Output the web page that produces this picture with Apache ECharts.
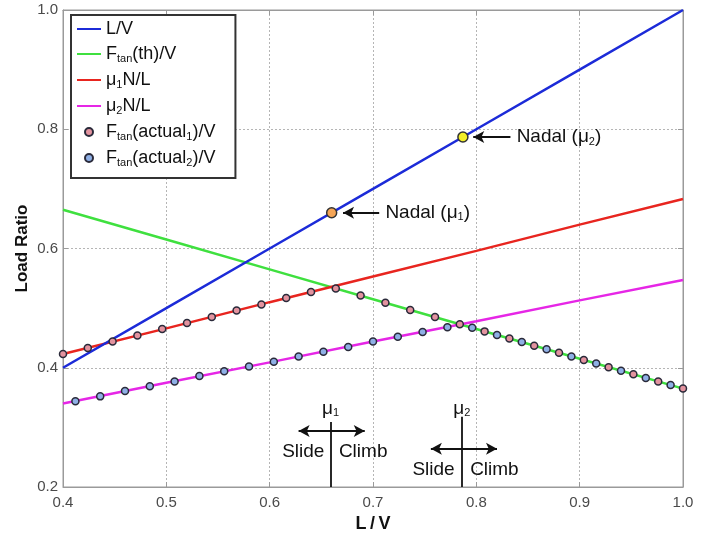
<!DOCTYPE html>
<html><head><meta charset="utf-8">
<script src="https://cdn.jsdelivr.net/npm/echarts@6/dist/echarts.min.js"></script>
<style>html,body{margin:0;padding:0;background:#fff}#c{width:705px;height:535px}</style>
</head><body><div id="c"></div>
<script>
// ---- data ----
const lineX = [0.4, 0.5, 0.6, 0.7, 0.8, 0.9, 1.0];
const lvY   = [0.4, 0.5, 0.6, 0.7, 0.8, 0.9, 1.0];
const thY   = [0.665, 0.615, 0.565, 0.515, 0.465, 0.415, 0.365];
const mu1Y  = [0.423, 0.466, 0.510, 0.553, 0.596, 0.640, 0.683];
const mu2Y  = [0.340, 0.375, 0.409, 0.444, 0.478, 0.513, 0.547];
const act1X = [0.400,0.424,0.448,0.472,0.496,0.520,0.544,0.568,0.592,0.616,0.640,0.664,0.688,0.712,0.736,0.760,0.784,0.808,0.832,0.856,0.880,0.904,0.928,0.952,0.976,1.000];
const act1Y = [0.423,0.433,0.444,0.454,0.465,0.475,0.485,0.496,0.506,0.517,0.527,0.533,0.521,0.509,0.497,0.485,0.473,0.461,0.449,0.437,0.425,0.413,0.401,0.389,0.377,0.365];
const act2X = [0.412,0.436,0.460,0.484,0.508,0.532,0.556,0.580,0.604,0.628,0.652,0.676,0.700,0.724,0.748,0.772,0.796,0.820,0.844,0.868,0.892,0.916,0.940,0.964,0.988];
const act2Y = [0.344,0.352,0.361,0.369,0.377,0.386,0.394,0.402,0.410,0.419,0.427,0.435,0.444,0.452,0.460,0.468,0.467,0.455,0.443,0.431,0.419,0.407,0.395,0.383,0.371];
const nadalX = [0.660, 0.787];
const nadalY = [0.660, 0.787];
const nadalColors = ['#f5a556', '#f2ee2a'];
const mu1X = 0.659, mu2X = 0.786;

const zip = (xs, ys) => xs.map((x, i) => [x, ys[i]]);
const FONT = 'Liberation Sans';
const mkRich = (big, small, pad) => ({
  n: {fontSize: big, color: '#111', fontFamily: FONT, lineHeight: 20},
  s: {fontSize: small, color: '#111', fontFamily: FONT, lineHeight: 20, padding: [pad, 0, 0, 0]}
});
const legRich = mkRich(18, 11, 9);
const noteRich = mkRich(19, 11, 9);
const legendText = {
  'L/V': '{n|L/V}',
  'Ftan(th)/V': '{n|F}{s|tan}{n|(th)/V}',
  'μ1N/L': '{n|μ}{s|1}{n|N/L}',
  'μ2N/L': '{n|μ}{s|2}{n|N/L}',
  'Ftan(actual1)/V': '{n|F}{s|tan}{n|(actual}{s|1}{n|)/V}',
  'Ftan(actual2)/V': '{n|F}{s|tan}{n|(actual}{s|2}{n|)/V}'
};

const chart = echarts.init(document.getElementById('c'), null, {renderer: 'canvas'});
const axisCol = '#9a9a9a';
const lbl = {color: '#4a4a4a', fontSize: 15, fontFamily: FONT, formatter: v => v.toFixed(1)};

const noteLabel = (pos, text) => ({show: true, position: pos, distance: 0, formatter: text, rich: noteRich,
  color: '#111', opacity: 1, textBorderWidth: 0});
const notes = [
  {value: [0.712, 0.660], label: noteLabel('right', '{n|Nadal (μ}{s|1}{n|)}')},
  {value: [0.839, 0.787], label: noteLabel('right', '{n|Nadal (μ}{s|2}{n|)}')},
  {value: [mu1X, 0.331], label: noteLabel('inside', '{n|μ}{s|1}')},
  {value: [mu2X, 0.331], label: noteLabel('inside', '{n|μ}{s|2}')},
  {value: [0.653, 0.259], label: noteLabel('left', '{n|Slide}')},
  {value: [0.667, 0.259], label: noteLabel('right', '{n|Climb}')},
  {value: [0.779, 0.229], label: noteLabel('left', '{n|Slide}')},
  {value: [0.794, 0.229], label: noteLabel('right', '{n|Climb}')}
];
const arrowSeg = (x1, y1, x2, y2, s1, s2) => [
  {coord: [x1, y1], symbol: s1}, {coord: [x2, y2], symbol: s2}
];
const lineLegend = name => ({name: name, itemStyle: {opacity: 0}});

chart.setOption({
  animation: false,
  backgroundColor: '#fff',
  textStyle: {fontFamily: FONT},
  grid: {left: 63, right: 22, top: 10, bottom: 48, show: true, borderColor: axisCol, borderWidth: 1,
    backgroundColor: 'transparent', containLabel: false, outerBoundsMode: 'none'},
  legend: {
    orient: 'vertical', left: 71, top: 15,
    padding: [5, 20, 10, 5], itemGap: 6, itemWidth: 24, itemHeight: 8,
    borderColor: '#333', borderWidth: 2, backgroundColor: '#fff',
    data: [lineLegend('L/V'), lineLegend('Ftan(th)/V'), lineLegend('μ1N/L'), lineLegend('μ2N/L'), 'Ftan(actual1)/V', 'Ftan(actual2)/V'],
    formatter: name => legendText[name],
    textStyle: {rich: legRich}
  },
  xAxis: [{
    type: 'value', min: 0.4, max: 1.0, interval: 0.1,
    name: 'L\u2009/\u2009V', nameLocation: 'middle', nameGap: 27,
    nameTextStyle: {fontWeight: 'bold', fontSize: 18, color: '#111', fontFamily: FONT},
    axisLine: {show: true, onZero: false, lineStyle: {color: axisCol}},
    axisTick: {show: true, inside: true, length: 5, lineStyle: {color: axisCol}},
    axisLabel: Object.assign({margin: 8}, lbl),
    splitLine: {show: true, lineStyle: {color: '#b5b5b5', type: [2, 2], width: 1}}
  }, {
    type: 'value', position: 'top', min: 0.4, max: 1.0, interval: 0.1,
    axisLine: {show: true, onZero: false, lineStyle: {color: axisCol}},
    axisTick: {show: true, inside: true, length: 5, lineStyle: {color: axisCol}},
    axisLabel: {show: false}, splitLine: {show: false}
  }],
  yAxis: [{
    type: 'value', min: 0.2, max: 1.0, interval: 0.2,
    name: 'Load Ratio', nameLocation: 'middle', nameGap: 32, nameMoveOverlap: false,
    nameTextStyle: {fontWeight: 'bold', fontSize: 17, color: '#111', fontFamily: FONT},
    axisLine: {show: true, onZero: false, lineStyle: {color: axisCol}},
    axisTick: {show: true, inside: true, length: 5, lineStyle: {color: axisCol}},
    axisLabel: Object.assign({margin: 5}, lbl),
    splitLine: {show: true, lineStyle: {color: '#b5b5b5', type: [2, 2], width: 1}}
  }, {
    type: 'value', position: 'right', min: 0.2, max: 1.0, interval: 0.2,
    axisLine: {show: true, onZero: false, lineStyle: {color: axisCol}},
    axisTick: {show: true, inside: true, length: 5, lineStyle: {color: axisCol}},
    axisLabel: {show: false}, splitLine: {show: false}
  }],
  series: [
    {name: 'L/V', type: 'line', data: zip(lineX, lvY), symbol: 'none', color: '#1c2bd8', lineStyle: {width: 2.5}, z: 3},
    {name: 'Ftan(th)/V', type: 'line', data: zip(lineX, thY), symbol: 'none', color: '#3fe03f', lineStyle: {width: 2.5}, z: 2},
    {name: 'μ1N/L', type: 'line', data: zip(lineX, mu1Y), symbol: 'none', color: '#e8251f', lineStyle: {width: 2.5}, z: 2},
    {name: 'μ2N/L', type: 'line', data: zip(lineX, mu2Y), symbol: 'none', color: '#e626e6', lineStyle: {width: 2.5}, z: 2},
    {name: 'Ftan(actual1)/V', type: 'scatter', data: zip(act1X, act1Y), symbol: 'circle', symbolSize: 7, clip: false,
      itemStyle: {color: '#e3939f', borderColor: '#2a2a3a', borderWidth: 1.5, opacity: 1}, z: 5},
    {name: 'Ftan(actual2)/V', type: 'scatter', data: zip(act2X, act2Y), symbol: 'circle', symbolSize: 7, clip: false,
      itemStyle: {color: '#8fb0e6', borderColor: '#2a2a3a', borderWidth: 1.5, opacity: 1}, z: 5},
    {name: 'Nadal', type: 'scatter', symbolSize: 10, z: 6,
      data: nadalX.map((x, i) => ({value: [x, nadalY[i]], itemStyle: {color: nadalColors[i]}})),
      itemStyle: {borderColor: '#333', borderWidth: 1.5, opacity: 1}},
    {name: 'notes', type: 'scatter', symbol: 'circle', symbolSize: 0, z: 7, silent: true,
      itemStyle: {color: '#000', opacity: 1}, data: notes,
      markLine: {
        silent: true, animation: false, symbol: ['none', 'none'], symbolSize: [9, 11],
        label: {show: false}, emphasis: {disabled: true},
        lineStyle: {color: '#111', width: 1.8, type: 'solid'},
        data: [
          arrowSeg(0.706, 0.660, 0.671, 0.660, 'none', 'arrow'),
          arrowSeg(0.833, 0.787, 0.797, 0.787, 'none', 'arrow'),
          arrowSeg(mu1X, 0.2, mu1X, 0.309, 'none', 'none'),
          arrowSeg(mu2X, 0.2, mu2X, 0.318, 'none', 'none'),
          arrowSeg(0.628, 0.294, 0.692, 0.294, 'arrow', 'arrow'),
          arrowSeg(0.756, 0.264, 0.820, 0.264, 'arrow', 'arrow')
        ]
      }}
  ]
});
</script></body></html>
